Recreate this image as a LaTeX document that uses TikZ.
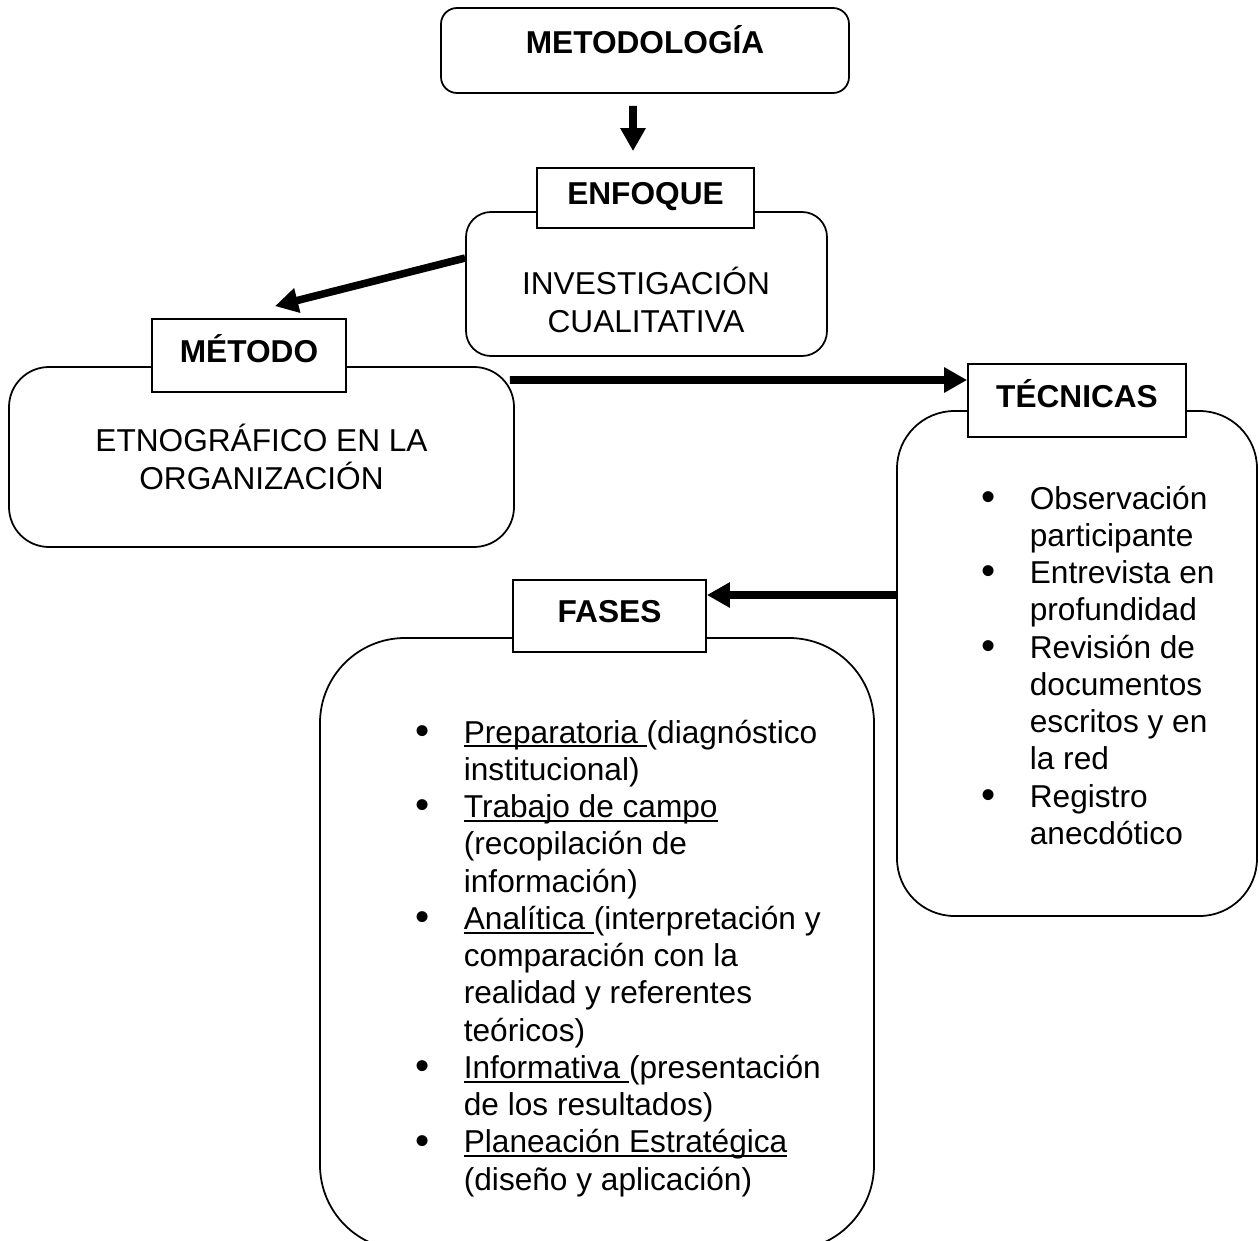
\documentclass[tikz,border=0pt]{standalone}
\usepackage{fontspec}
\setmainfont{Liberation Sans}
\usepackage{tikz}
\usetikzlibrary{arrows.meta,positioning}
\newcommand{\diagfont}{\fontsize{18}{21.2}\selectfont}
\newcommand{\ulword}[1]{\setbox0\hbox{#1}\rlap{\rule[-2.4pt]{\wd0}{1.1pt}}\box0}
\newcommand{\itm}{\makebox[0.22cm]{\raisebox{-0.8pt}{\fontsize{23}{21.2}\selectfont\textbullet}}}
\tikzstyle{arrow} = [line width=4.3pt,-{Triangle[length=0.46cm,width=0.48cm]}]

\begin{document}
\begin{tikzpicture}[
    every node/.style={font=\diagfont},
    roundbox/.style={rectangle, rounded corners=#1, draw, line width=1pt, inner sep=0pt, align=center},
    tag/.style={rectangle, draw, line width=1pt, fill=white, inner sep=0pt, font=\diagfont\bfseries, text height=0.46cm, text depth=0.2cm},
    list/.style={inner sep=0pt, anchor=base west}
]
\clip (0,0) rectangle (25.18,-24.8);

% Top box
\node[roundbox=0.32cm, minimum width=8.16cm, minimum height=1.7cm, font=\diagfont\bfseries, text height=0.46cm, text depth=0.32cm] (meto) at (12.90,-1.01) {METODOLOGÍA};

% Enfoque
\node[roundbox=0.5cm, minimum width=7.22cm, minimum height=2.88cm] (inv) at (12.93,-5.68) {};
\node[align=center] (invtxt) at (12.92,-6.0) {INVESTIGACIÓN\\CUALITATIVA};
\node[tag, minimum width=4.34cm, minimum height=1.2cm] (enfoque) at (12.91,-3.96) {ENFOQUE};

% Metodo (left)
\node[roundbox=0.8cm, minimum width=10.1cm, minimum height=3.6cm] (etno) at (5.23,-9.14) {ETNOGRÁFICO EN LA\\ORGANIZACIÓN};
\node[tag, minimum width=3.88cm, minimum height=1.46cm] (metodo) at (4.98,-7.11) {MÉTODO};

% Tecnicas (right)
\node[roundbox=1.15cm, minimum width=7.2cm, minimum height=10.1cm] (tecbox) at (21.54,-13.27) {};
\node[tag, minimum width=4.36cm, minimum height=1.46cm] (tecnicas) at (21.54,-8.01) {TÉCNICAS};
\node[list] (teclist) at (19.65,-10.18) {\begin{tabular}[t]{@{}p{0.94cm}@{}l@{}}
\itm & Observación\\
 & participante\\
\itm & Entrevista en\\
 & profundidad\\
\itm & Revisión de\\
 & documentos\\
 & escritos y en\\
 & la red\\
\itm & Registro\\
 & anecdótico
\end{tabular}};

% Fases (bottom)
\node[roundbox=1.7cm, minimum width=11.08cm, minimum height=12.24cm] (fasebox) at (11.94,-18.88) {};
\node[tag, minimum width=3.86cm, minimum height=1.44cm] (fases) at (12.19,-12.32) {FASES};
\node[list] (faselist) at (8.33,-14.86) {\begin{tabular}[t]{@{}p{0.94cm}@{}l@{}}
\itm & \ulword{Preparatoria }(diagnóstico\\
 & institucional)\\
\itm & \ulword{Trabajo de campo}\\
 & (recopilación de\\
 & información)\\
\itm & \ulword{Analítica }(interpretación y\\
 & comparación con la\\
 & realidad y referentes\\
 & teóricos)\\
\itm & \ulword{Informativa }(presentación\\
 & de los resultados)\\
\itm & \ulword{Planeación Estratégica}\\
 & (diseño y aplicación)
\end{tabular}};

% Arrows
\draw[arrow] ([xshift=-0.24cm,yshift=-0.24cm]meto.south) -- ([xshift=-0.25cm,yshift=0.32cm]enfoque.north);
\draw[arrow] ([yshift=0.52cm]inv.west) -- ([xshift=0.52cm,yshift=0.24cm]metodo.north);
\draw[arrow] ([xshift=-0.1cm,yshift=1.54cm]etno.east) -- ([yshift=0.41cm]tecnicas.west);
\draw[arrow] ([yshift=1.37cm]tecbox.west) -- ([yshift=0.42cm]fases.east);

\end{tikzpicture}
\end{document}
